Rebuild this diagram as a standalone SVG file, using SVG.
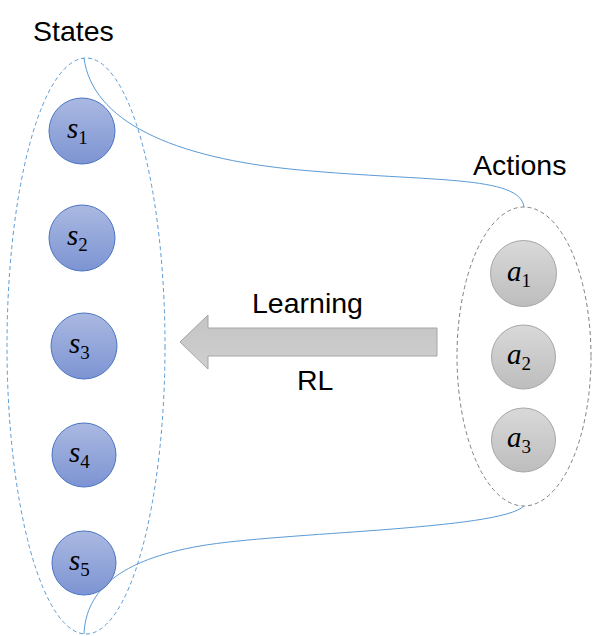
<svg xmlns="http://www.w3.org/2000/svg" width="594" height="636" viewBox="0 0 594 636">
<defs>
<linearGradient id="gBlue" x1="0" y1="0" x2="0" y2="1"><stop offset="0" stop-color="#aab9e1"/><stop offset="1" stop-color="#7d94d3"/></linearGradient>
<linearGradient id="gGray" x1="0" y1="0" x2="0" y2="1"><stop offset="0" stop-color="#d9d9d9"/><stop offset="1" stop-color="#bdbdbd"/></linearGradient>
<linearGradient id="gArrow" x1="0" y1="0" x2="0" y2="1"><stop offset="0" stop-color="#c4c4c4"/><stop offset="1" stop-color="#cfcfcf"/></linearGradient>
</defs>
<style>
.title{font-family:"Liberation Sans",Arial,sans-serif;font-size:28.5px;fill:#000}
.s{fill:url(#gBlue);stroke:#4a74c4;stroke-width:1}
.a{fill:url(#gGray);stroke:#a6a6a6;stroke-width:1}
.lbl{font-family:"Liberation Serif","Times New Roman",serif;fill:#000}
.v{font-style:italic;font-size:29px}
.sub{font-size:19px}
.conn{fill:none;stroke:#5b9bd5;stroke-width:1}
</style>
<g id="labels">
<text class="title" x="33" y="41">States</text>
<text class="title" x="473" y="175">Actions</text>
<text class="title" x="252" y="313">Learning</text>
<text class="title" x="297" y="390">RL</text>
</g>
<g id="states-group">
<ellipse cx="86" cy="346" rx="79" ry="288" fill="none" stroke="#5b9bd5" stroke-width="1" stroke-dasharray="4,3"/>
</g>
<g id="actions-group">
<ellipse cx="524" cy="356.5" rx="67" ry="149.5" fill="none" stroke="#7f7f7f" stroke-width="1" stroke-dasharray="4,3"/>
</g>
<g id="connectors">
<path class="conn" d="M84,58 C92,120 170,158 300,170 S520,175 524,207"/>
<path class="conn" d="M84,634 C86,590 120,560 200,546 S500,530 524,506"/>
</g>
<g id="s1"><circle class="s" cx="82" cy="131" r="33"/><text class="lbl" x="67" y="138"><tspan class="v">s</tspan><tspan class="sub" dy="6">1</tspan></text></g>
<g id="s2"><circle class="s" cx="82" cy="238" r="33"/><text class="lbl" x="67" y="245"><tspan class="v">s</tspan><tspan class="sub" dy="6">2</tspan></text></g>
<g id="s3"><circle class="s" cx="84" cy="346" r="33"/><text class="lbl" x="69" y="353"><tspan class="v">s</tspan><tspan class="sub" dy="6">3</tspan></text></g>
<g id="s4"><circle class="s" cx="84" cy="455" r="32"/><text class="lbl" x="69" y="462"><tspan class="v">s</tspan><tspan class="sub" dy="6">4</tspan></text></g>
<g id="s5"><circle class="s" cx="84" cy="563" r="32"/><text class="lbl" x="69" y="570"><tspan class="v">s</tspan><tspan class="sub" dy="6">5</tspan></text></g>
<g id="a1"><circle class="a" cx="523.5" cy="273.5" r="33"/><text class="lbl" x="507" y="281"><tspan class="v">a</tspan><tspan class="sub" dy="6">1</tspan></text></g>
<g id="a2"><circle class="a" cx="523.5" cy="357" r="32"/><text class="lbl" x="507" y="364"><tspan class="v">a</tspan><tspan class="sub" dy="6">2</tspan></text></g>
<g id="a3"><circle class="a" cx="523.5" cy="440" r="32"/><text class="lbl" x="507" y="447"><tspan class="v">a</tspan><tspan class="sub" dy="6">3</tspan></text></g>
<g id="arrow">
<polygon points="180,342 208,315 208,328 437,328 437,356 208,356 208,369" fill="url(#gArrow)" stroke="#a5a5a5" stroke-width="1"/>
</g>
</svg>
